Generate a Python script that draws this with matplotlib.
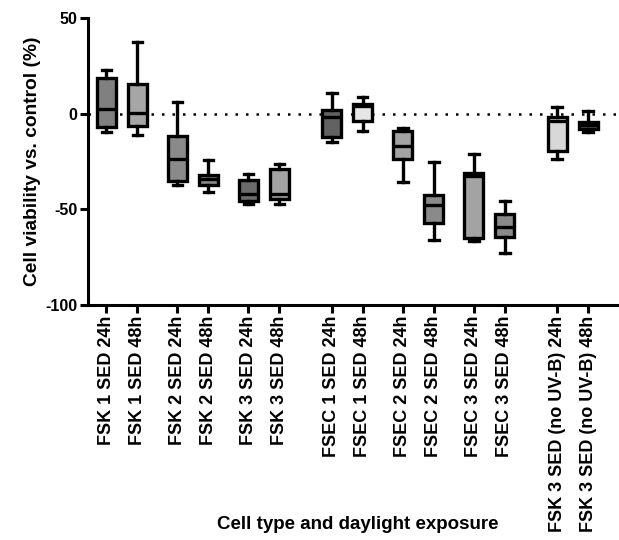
import matplotlib
matplotlib.use("Agg")
import matplotlib.pyplot as plt

plt.rcParams['font.family'] = ['Liberation Sans', 'DejaVu Sans']
plt.rcParams['axes.unicode_minus'] = False

labels = ["FSK 1 SED 24h", "FSK 1 SED 48h", "FSK 2 SED 24h", "FSK 2 SED 48h",
          "FSK 3 SED 24h", "FSK 3 SED 48h", "FSEC 1 SED 24h", "FSEC 1 SED 48h",
          "FSEC 2 SED 24h", "FSEC 2 SED 48h", "FSEC 3 SED 24h", "FSEC 3 SED 48h",
          "FSK 3 SED (no UV-B) 24h", "FSK 3 SED (no UV-B) 48h"]
whisk_lo = [-9.6, -11.4, -37.5, -40.7, -47.3, -47.3, -15.0, -9.2, -35.8, -66.0, -66.3, -72.9, -23.6, -9.8]
q1       = [-7.2, -6.6, -35.4, -37.2, -45.5, -44.5, -12.2, -4.0, -23.7, -56.9, -65.1, -64.2, -19.4, -8.0]
median   = [2.5, 0.4, -23.6, -34.2, -41.9, -42.0, -1.7, 4.0, -17.1, -47.6, -32.8, -59.0, -4.0, -5.9]
q3       = [18.7, 15.7, -11.5, -32.3, -34.6, -29.0, 2.1, 5.2, -8.9, -42.4, -31.0, -52.5, -1.7, -4.5]
whisk_hi = [22.6, 37.3, 5.9, -24.4, -31.8, -26.2, 11.0, 8.9, -7.5, -25.5, -21.1, -45.4, 3.5, 1.2]
colors = ["#808080", "#a6a6a6", "#8a8a8a", "#8a8a8a", "#6b6b6b", "#a3a3a3",
          "#626262", "#e6e6e6", "#a3a3a3", "#8a8a8a", "#a3a3a3", "#8a8a8a",
          "#d8d8d8", "#5a5a5a"]
positions = [0, 1, 2.3, 3.3, 4.6, 5.6, 7.3, 8.3, 9.6, 10.6, 11.9, 12.9, 14.6, 15.6]

fig = plt.figure(figsize=(6.19, 5.40), dpi=100)
ax = fig.add_axes([0.142, 0.435, 0.858, 0.532])

ax.axhline(0, color='black', lw=1.8, ls=(0, (1, 3.2)), zorder=0)

stats = []
for i in range(len(labels)):
    stats.append(dict(med=median[i], q1=q1[i], q3=q3[i], whislo=whisk_lo[i],
                      whishi=whisk_hi[i], fliers=[], label=labels[i]))

lw = 2.4
bp = ax.bxp(stats, positions=positions, widths=0.62, capwidths=0.31,
            patch_artist=True, showfliers=False,
            boxprops=dict(linewidth=lw, edgecolor='black'),
            whiskerprops=dict(linewidth=lw, color='black'),
            capprops=dict(linewidth=lw, color='black'),
            medianprops=dict(linewidth=lw, color='black'))
for patch, c in zip(bp['boxes'], colors):
    patch.set_facecolor(c)

ax.set_xlim(-0.6, 16.6)
ax.set_ylim(-100, 50)
ax.set_yticks([-100, -50, 0, 50])
ax.set_xticks(positions)
ax.set_xticklabels(labels, rotation=90, fontsize=13, fontweight='bold')
for t in ax.get_yticklabels():
    t.set_fontweight('bold')
    t.set_fontsize(11.5)

ax.spines['top'].set_visible(False)
ax.spines['right'].set_visible(False)
ax.spines['left'].set_linewidth(2.2)
ax.spines['bottom'].set_linewidth(2.2)
ax.tick_params(axis='both', direction='out', length=6, width=2.2, pad=1.5)

ax.set_ylabel("Cell viability vs. control (%)", fontsize=13.8, fontweight='bold', labelpad=3)
fig.text(0.578, 0.013, "Cell type and daylight exposure", ha='center', va='bottom',
         fontsize=13.5, fontweight='bold')

fig.savefig("out.png", dpi=100)
